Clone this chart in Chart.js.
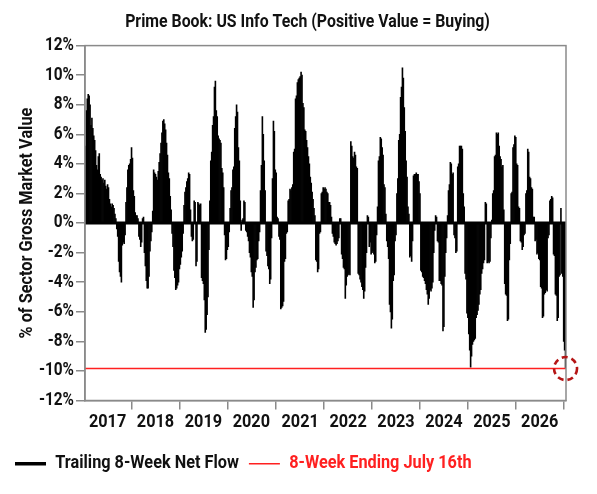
<!DOCTYPE html>
<html><head><meta charset="utf-8">
<script src="https://cdn.jsdelivr.net/npm/chart.js@4.4.1/dist/chart.umd.min.js"></script>
<style>html,body{margin:0;padding:0;background:#fff}#wrap{width:597px;height:494px}</style>
</head><body><div id="wrap"><canvas id="c" width="597" height="494"></canvas></div>
<script>
const titleText = 'Prime Book: US Info Tech (Positive Value = Buying)';
const yAxisTitle = '% of Sector Gross Market Value';
const seriesName = 'Trailing 8-Week Net Flow';
const refName = '8-Week Ending July 16th';
const firstWeekEnd = '2016-07-21';
const periodDays = 7;
const yearTicks = ['2017','2018','2019','2020','2021','2022','2023','2024','2025','2026'];
const yTickValues = [-12,-10,-8,-6,-4,-2,0,2,4,6,8,10,12];
// weekly trailing 8-week net flow, % of sector gross market value
const netFlow = [
 5.2, 7.6, 8.4, 8.7, 8.6, 8.0, 6.6, 7.1, 6.4, 5.9, 5.6, 4.9, 3.9, 3.6, 4.5, 4.7, 3.3, 3.1, 2.9, 3.0,
 2.7, 2.9, 2.5, 2.3, 2.6, 2.4, 1.6, 1.3, 1.1, 1.3, 1.2, 1.0, 0.6, 0.3, -0.4, -0.9, -2.6, -3.3, -3.6, -4.0,
 -1.5, -1.3, -1.4, -0.8, 1.4, 2.4, 3.6, 3.9, 4.0, 4.3, 5.1, 4.4, 2.2, 1.8, 0.7, 0.5, 0.5, 0.3, -0.9, -1.1,
 -1.6, -1.3, 0.3, 0.4, -2.0, -2.9, -3.9, -4.4, -4.4, -3.6, -1.9, -1.2, -0.6, 0.8, 3.6, 3.4, 3.3, 3.1, 2.9, 3.5,
 4.1, 4.7, 5.4, 6.1, 6.9, 7.0, 6.7, 6.3, 5.4, 4.6, 3.4, 3.0, 1.8, 0.9, -0.7, -1.6, -3.2, -3.7, -4.5, -4.4,
 -4.2, -4.0, -3.1, -2.8, -2.3, -1.9, -0.7, 1.2, 2.1, 2.4, 2.8, 3.0, 3.4, 3.3, 0.9, -0.9, -1.2, -1.1, 1.5, 1.4,
 -2.9, -2.6, 1.4, 1.3, 1.2, 1.3, -3.7, -3.9, -4.1, -5.2, -7.4, -7.2, -6.2, -5.0, -1.8, 1.5, 4.2, 4.8, 6.6, 7.2,
 9.2, 9.6, 7.6, 7.2, 5.9, 5.7, 5.6, 5.4, 3.7, 3.4, 2.4, -0.8, -2.5, -2.4, -1.8, -1.6, -0.6, 1.0, 2.2, 2.4,
 3.6, 3.8, 6.4, 7.2, 8.0, 7.5, 5.1, 4.2, 1.5, -0.5, 0.2, 0.3, 1.5, 1.4, -0.5, -0.6, -0.9, -1.2, -2.0, -2.3,
 -3.3, -3.6, -5.7, -5.2, -3.3, -3.0, -2.5, -2.4, -1.2, -0.6, 2.2, 3.9, 7.2, 6.0, 4.2, 2.2, -1.9, -2.2, -2.9, -3.1,
 -4.1, -3.8, -1.0, 3.0, 6.9, 6.2, 3.6, 3.4, 0.4, 0.3, -0.9, -1.1, -5.8, -5.7, -5.6, -5.3, -2.6, -2.4, -0.7, -0.6,
 1.5, 1.6, 2.3, 2.2, 2.4, 2.6, 4.8, 5.0, 8.4, 8.6, 9.5, 9.7, 9.8, 9.9, 10.2, 10.0, 8.1, 7.8, 6.3, 6.2,
 5.6, 5.1, 4.5, 4.0, 3.1, 2.7, 2.1, 1.6, 1.0, 0.5, -2.5, -2.6, -3.3, -3.1, -0.7, -0.6, 2.0, 2.1, 2.4, 2.3,
 2.4, 2.3, 2.1, 2.0, 1.4, 1.4, 1.2, 0.4, -0.7, -0.9, -1.3, -1.4, -1.5, -1.4, -1.2, -1.0, 0.3, 0.3, -2.1, -2.4,
 -3.0, -3.1, -5.1, -4.2, -3.6, -3.5, -3.4, -3.5, 5.5, 5.2, 4.5, 4.4, 4.8, 4.6, 3.8, 3.7, -3.4, -3.5, -3.8, -4.0,
 -4.3, -4.5, -5.1, -4.6, -3.0, -2.0, 0.5, 0.4, -1.6, -1.3, -2.1, -2.0, -1.9, -2.1, -2.7, -2.6, -0.8, 1.1, 4.2, 4.5,
 5.8, 5.7, 5.1, 4.6, 2.6, 2.4, 0.6, -1.2, -1.6, -2.4, -5.5, -6.0, -7.1, -6.5, -3.9, -3.5, -1.2, -0.8, 2.0, 3.0,
 5.6, 6.0, 8.5, 9.2, 10.5, 9.8, 7.8, 6.2, 4.2, 3.1, 1.1, 0.6, -2.3, -2.2, -2.6, -1.2, 3.2, 3.3, 3.3, 3.4,
 3.3, 3.3, 2.8, 2.0, -3.2, -3.3, -3.6, -3.7, -3.9, -4.1, -4.5, -4.8, -5.5, -5.1, -4.5, -4.6, -4.4, -4.0, -2.0, -0.5,
 0.5, 0.4, -1.2, -1.3, -3.9, -3.9, -4.1, -4.2, -7.3, -7.0, -3.6, -2.0, -1.0, 0.5, 2.2, 2.6, 4.1, 4.0, 3.3, 3.4,
 -0.8, -1.0, -2.0, -1.9, 3.8, 4.0, 5.2, 5.2, 5.2, 5.0, 2.0, 1.1, -3.4, -3.8, -6.1, -6.4, -7.5, -8.6, -9.75, -9.0,
 -8.2, -8.0, -7.9, -7.8, -6.4, -6.2, -5.9, -5.5, -4.8, -4.5, -3.4, -3.1, -2.7, -2.5, 1.4, 1.3, -2.7, -2.6, -2.7, -2.6,
 -1.0, 0.2, 2.0, 2.2, 4.5, 4.6, 6.1, 6.0, 6.1, 5.2, 4.5, 4.3, 3.8, 3.9, 0.9, -4.1, -4.8, -4.9, -6.6, -6.5,
 -2.5, -1.4, 2.0, 2.1, 5.1, 5.3, 5.9, 5.8, 4.0, 3.9, 1.1, 1.0, -1.2, -1.3, -1.8, -1.6, -0.8, -0.7, 2.0, 2.2,
 5.0, 4.8, 3.1, 3.0, 2.4, 2.3, 0.4, 0.4, -1.2, -1.1, -2.1, -2.0, -2.4, -2.5, -4.3, -4.4, -6.4, -6.3, -4.8, -4.7,
 -4.5, -4.6, -1.0, -0.8, 1.5, 1.6, 1.8, 1.7, -2.1, -2.2, -4.8, -4.9, -6.6, -6.4, -3.6, -3.5, 1.0, -3.4, -3.6, -8.0,
 -8.6, -9.84
];
const latestValue = netFlow[netFlow.length - 1];

const weekLabels = netFlow.map((_, i) => {
  const d = new Date(firstWeekEnd + 'T00:00:00Z');
  d.setUTCDate(d.getUTCDate() + i * periodDays);
  return d.toISOString().slice(0, 10);
});

// Roboto drawn horizontally condensed to mimic a condensed face
const FONT = 'Roboto';
const SX = 0.88;
(function () {
  const P = CanvasRenderingContext2D.prototype;
  const of = P.fillText, om = P.measureText;
  P.fillText = function (t, x, y, mw) {
    if (this.font.indexOf('Roboto') < 0) return mw === undefined ? of.call(this, t, x, y) : of.call(this, t, x, y, mw);
    this.save(); this.translate(x, y); this.scale(SX, 1);
    if (mw === undefined) of.call(this, t, 0, 0); else of.call(this, t, 0, 0, mw / SX);
    this.restore();
  };
  P.measureText = function (t) {
    const m = om.call(this, t);
    if (this.font.indexOf('Roboto') < 0) return m;
    return {
      width: m.width * SX,
      actualBoundingBoxLeft: m.actualBoundingBoxLeft * SX,
      actualBoundingBoxRight: m.actualBoundingBoxRight * SX,
      actualBoundingBoxAscent: m.actualBoundingBoxAscent,
      actualBoundingBoxDescent: m.actualBoundingBoxDescent,
      fontBoundingBoxAscent: m.fontBoundingBoxAscent,
      fontBoundingBoxDescent: m.fontBoundingBoxDescent
    };
  };
})();

const AXIS_GRAY = '#8a8a8a';
const RED = '#ff2020';
const DARK_RED = '#b51515';

const decorPlugin = {
  id: 'decor',
  afterLayout(chart) {
    // reference title is centred a little right of the canvas centre
    if (chart.titleBlock) chart.titleBlock.left += 44;
  },
  afterDatasetsDraw(chart) {
    const { ctx, chartArea: a, scales: { y } } = chart;
    ctx.save();
    const y0 = y.getPixelForValue(0);
    ctx.strokeStyle = '#000';
    ctx.lineWidth = 3;
    ctx.beginPath(); ctx.moveTo(a.left, y0); ctx.lineTo(a.right, y0); ctx.stroke();
    const yv = y.getPixelForValue(latestValue);
    ctx.strokeStyle = RED;
    ctx.lineWidth = 1.6;
    ctx.beginPath(); ctx.moveTo(a.left, yv); ctx.lineTo(a.right, yv); ctx.stroke();
    ctx.restore();
  },
  afterDraw(chart) {
    const { ctx, chartArea: a, scales: { x, y } } = chart;
    ctx.save();
    ctx.strokeStyle = AXIS_GRAY;
    ctx.lineWidth = 1.5;
    ctx.strokeRect(a.left, a.top, a.right - a.left, a.bottom - a.top);
    const cx = x.getPixelForValue(netFlow.length - 1);
    const cy = y.getPixelForValue(latestValue);
    ctx.strokeStyle = DARK_RED;
    ctx.lineWidth = 2.6;
    ctx.setLineDash([6, 4]);
    ctx.beginPath(); ctx.arc(cx, cy, 11.5, 0, Math.PI * 2); ctx.stroke();
    ctx.restore();
  }
};

new Chart(document.getElementById('c'), {
  type: 'bar',
  data: {
    labels: weekLabels,
    datasets: [{
      label: seriesName,
      data: netFlow,
      backgroundColor: '#000',
      borderWidth: 0,
      barPercentage: 1,
      categoryPercentage: 1,
      inflateAmount: 0.35
    }]
  },
  options: {
    responsive: false,
    animation: false,
    devicePixelRatio: 1,
    layout: { padding: { left: 5, right: 31, top: 0, bottom: 11 } },
    plugins: {
      title: {
        display: true,
        text: titleText,
        color: '#111',
        font: { family: FONT, size: 18, weight: 'bold' },
        padding: { top: 12, bottom: 12 }
      },
      legend: {
        display: true,
        position: 'bottom',
        align: 'start',
        labels: {
          usePointStyle: true,
          pointStyleWidth: 31,
          padding: 10,
          font: { family: FONT, size: 18.5, weight: 'bold' },
          generateLabels() {
            return [
              { text: seriesName, fillStyle: '#000', strokeStyle: '#000', lineWidth: 3.5, pointStyle: 'line', fontColor: '#111', hidden: false, datasetIndex: 0 },
              { text: refName, fillStyle: RED, strokeStyle: RED, lineWidth: 1.6, pointStyle: 'line', fontColor: RED, hidden: false, datasetIndex: 1 }
            ];
          }
        },
        onClick() {}
      },
      tooltip: { enabled: false }
    },
    scales: {
      x: {
        offset: true,
        afterFit(s) { s.height = 44; },
        grid: { display: true, drawOnChartArea: false, drawTicks: true, tickLength: 9, color: AXIS_GRAY, lineWidth: 1.5 },
        border: { display: true, color: AXIS_GRAY, width: 1.5 },
        ticks: {
          autoSkip: false,
          maxRotation: 0,
          padding: 2,
          color: '#111',
          font: { family: FONT, size: 18.5, weight: 'bold' },
          callback(value, index) {
            const yr = this.getLabelForValue(value).slice(0, 4);
            const prev = index > 0 ? this.getLabelForValue(index - 1).slice(0, 4) : null;
            return (yr !== prev && yearTicks.includes(yr)) ? yr : null;
          }
        }
      },
      y: {
        min: yTickValues[0],
        max: yTickValues[yTickValues.length - 1],
        afterFit(s) { s.width = 80; },
        afterBuildTicks(s) { s.ticks = yTickValues.map(v => ({ value: v })); },
        grid: { display: true, drawOnChartArea: false, drawTicks: true, tickLength: 9, color: AXIS_GRAY, lineWidth: 1.5 },
        border: { display: true, color: AXIS_GRAY, width: 1.5 },
        title: {
          display: true,
          text: yAxisTitle,
          color: '#111',
          font: { family: FONT, size: 18.5, weight: 'bold' },
          padding: { top: 11, bottom: 0 }
        },
        ticks: {
          padding: 2,
          color: '#111',
          font: { family: FONT, size: 17.5, weight: 'bold' },
          callback(v) { return v + '%'; }
        }
      }
    }
  },
  plugins: [decorPlugin]
});
</script>
</body></html>
